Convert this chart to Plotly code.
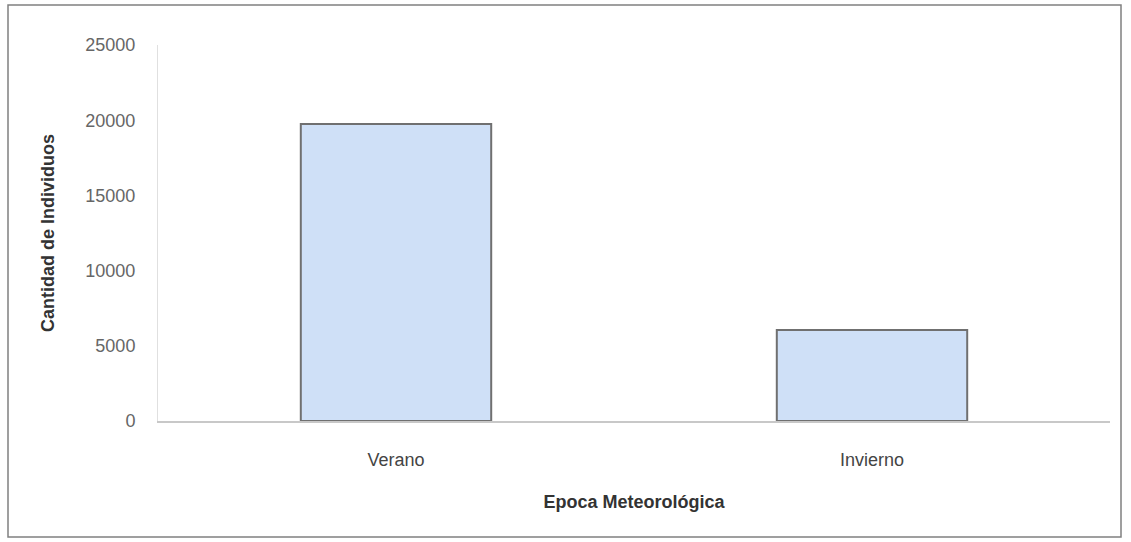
import plotly.graph_objects as go

categories = ["Verano", "Invierno"]
values = [19750, 6050]
y_ticks = [0, 5000, 10000, 15000, 20000, 25000]
y_tick_labels = ["0", "5000", "10000", "15000", "20000", "25000"]

fig = go.Figure()
fig.add_trace(go.Bar(
    x=categories, y=values, width=0.4,
    marker=dict(color="#cfe0f7", line=dict(color="#707070", width=2)),
))

L, R, T, B = 158, 21, 45, 121
W, H = 1131, 542
pw, ph = W - L - R, H - T - B
def px(x): return (x - L) / pw
def py(y): return (H - B - y) / ph

fig.add_shape(type="rect", xref="paper", yref="paper",
              x0=px(8), x1=px(1121), y0=py(537), y1=py(5),
              line=dict(color="#808080", width=1.5), layer="below")

fig.update_layout(
    width=W, height=H,
    margin=dict(l=L, r=R, t=T, b=B),
    paper_bgcolor="white", plot_bgcolor="white",
    font=dict(family="Liberation Sans, Arial, sans-serif", size=18, color="#555555"),
    showlegend=False,
    xaxis=dict(
        showline=True, linecolor="#c8c8c8", linewidth=1.5,
        ticks="", ticklabelstandoff=22, tickfont=dict(size=18, color="#444444"),
        title=dict(text="<b>Epoca Meteorológica</b>", font=dict(size=18, color="#333333"), standoff=26),
    ),
    yaxis=dict(
        range=[0, 25000], tickvals=y_ticks, ticktext=y_tick_labels, showgrid=False,
        showline=True, linecolor="#e0e0e0", linewidth=1,
        ticks="", ticklabelstandoff=18, tickfont=dict(size=18, color="#666666"),
        title=dict(text="<b>Cantidad de Individuos</b>", font=dict(size=18, color="#333333"), standoff=26),
        zeroline=False,
    ),
)

fig.write_html("out.html")
